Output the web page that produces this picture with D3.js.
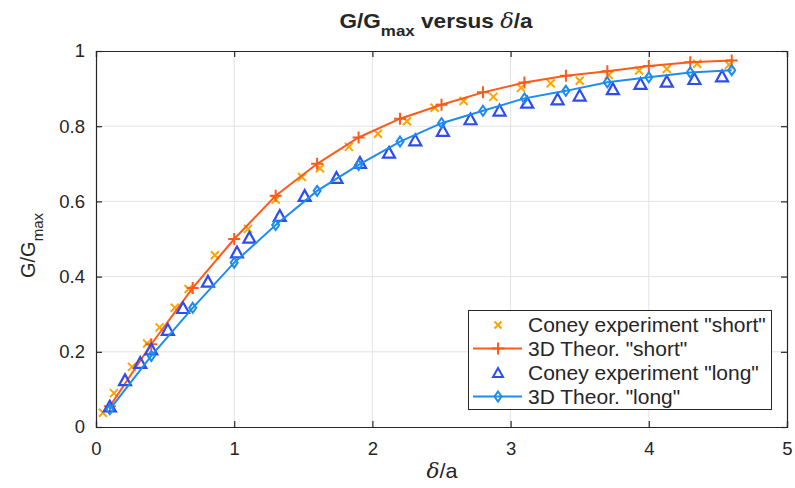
<!DOCTYPE html>
<html><head><meta charset="utf-8">
<script src="https://cdn.jsdelivr.net/npm/d3@7"></script>
<style>body{margin:0;background:#fff}svg{display:block}text{font-family:"Liberation Sans",Arial,sans-serif;fill:#262626}</style>
</head><body><svg id="c" width="795" height="488"></svg>
<script>
// Coney experiment "short" (x markers)
const coneyShortX = [0.05,0.13,0.26,0.37,0.46,0.57,0.67,0.86,1.10,1.30,1.49,1.62,1.83,2.04,2.25,2.45,2.66,2.875,3.075,3.29,3.50,3.71,3.93,4.13,4.35,4.58];
const coneyShortY = [0.038,0.09,0.16,0.222,0.265,0.317,0.367,0.457,0.527,0.605,0.665,0.688,0.745,0.78,0.813,0.849,0.867,0.878,0.902,0.914,0.921,0.936,0.948,0.952,0.966,0.963];
// 3D theory (shared x)
const theorX = [0.1,0.4,0.7,1.0,1.3,1.6,1.9,2.2,2.5,2.8,3.1,3.4,3.7,4.0,4.3,4.6];
const theorShortY = [0.055,0.22,0.37,0.50,0.615,0.70,0.77,0.82,0.857,0.89,0.916,0.934,0.946,0.96,0.97,0.975];
const theorLongY = [0.047,0.189,0.317,0.437,0.537,0.628,0.697,0.759,0.808,0.841,0.874,0.894,0.917,0.93,0.943,0.949];
// Coney experiment "long" (triangles)
const coneyLongX = [0.10,0.21,0.32,0.40,0.52,0.63,0.81,1.02,1.11,1.33,1.51,1.74,1.91,2.12,2.31,2.51,2.71,2.92,3.12,3.34,3.50,3.74,3.94,4.13,4.33,4.53];
const coneyLongY = [0.054,0.124,0.17,0.206,0.258,0.316,0.386,0.464,0.503,0.561,0.614,0.662,0.702,0.729,0.762,0.787,0.818,0.841,0.862,0.871,0.881,0.898,0.912,0.918,0.925,0.932];
const xTicks = [0,1,2,3,4,5];
const yTicks = [0,0.2,0.4,0.6,0.8,1];
const legendLabels = ['Coney experiment "short"','3D Theor. "short"','Coney experiment "long"','3D Theor. "long"'];

const cOrangeX = "#ffa300", cOrangeL = "#ff5a19", cBlueT = "#2f4cf0", cBlueL = "#1c8cf0";
const svg = d3.select("#c");
const L=96,R=787,T=51,B=427;
const x = d3.scaleLinear().domain([0,5]).range([L,R]);
const y = d3.scaleLinear().domain([0,1]).range([B,T]);

// grid
const g = svg.append("g");
g.selectAll(".gx").data(xTicks.slice(1,-1)).join("line").attr("x1",d=>x(d)).attr("x2",d=>x(d)).attr("y1",T).attr("y2",B).attr("stroke","#e3e3e3").attr("stroke-width",1);
g.selectAll(".gy").data(yTicks.slice(1,-1)).join("line").attr("y1",d=>y(d)).attr("y2",d=>y(d)).attr("x1",L).attr("x2",R).attr("stroke","#e3e3e3").attr("stroke-width",1);

// axes
const ax = d3.axisBottom(x).tickValues(xTicks).tickSize(-6).tickPadding(15).tickFormat(d3.format("d"));
const axT = d3.axisTop(x).tickValues(xTicks).tickSize(-6).tickFormat("");
const ay = d3.axisLeft(y).tickValues(yTicks).tickSize(-6).tickPadding(11).tickFormat(d=>d===0||d===1?String(d):d3.format(".1f")(d));
const ayR = d3.axisRight(y).tickValues(yTicks).tickSize(-6).tickFormat("");
function style(sel){sel.select(".domain").attr("stroke","#262626").attr("stroke-width",1.2);sel.selectAll(".tick line").attr("stroke","#262626").attr("stroke-width",1.2);sel.selectAll("text").attr("font-size",18.5).attr("font-family","Liberation Sans, Arial, sans-serif").attr("fill","#262626");}
svg.append("g").attr("transform",`translate(0,${B})`).call(ax).call(style);
svg.append("g").attr("transform",`translate(0,${T})`).call(axT).call(style);
svg.append("g").attr("transform",`translate(${L},0)`).call(ay).call(style);
svg.append("g").attr("transform",`translate(${R},0)`).call(ayR).call(style);

// markers
function crossPath(s){return `M${-s},${-s}L${s},${s}M${-s},${s}L${s},${-s}`;}
function plusPath(s){return `M${-s},0L${s},0M0,${-s}L0,${s}`;}
function triPath(s){return `M0,${-s}L${s},${s*0.8}L${-s},${s*0.8}Z`;}
function diaPath(s){return `M0,${-s}L${s*0.7},0L0,${s}L${-s*0.7},0Z`;}

const line = d3.line().x(d=>x(d[0])).y(d=>y(d[1]));
const tS = theorX.map((v,i)=>[v,theorShortY[i]]);
const tL = theorX.map((v,i)=>[v,theorLongY[i]]);
const cS = coneyShortX.map((v,i)=>[v,coneyShortY[i]]);
const cL = coneyLongX.map((v,i)=>[v,coneyLongY[i]]);

const p = svg.append("g");
p.selectAll(".cs").data(cS).join("path").attr("d",crossPath(4)).attr("transform",d=>`translate(${x(d[0])},${y(d[1])})`).attr("stroke",cOrangeX).attr("stroke-width",2).attr("fill","none");
p.append("path").datum(tS).attr("d",line).attr("stroke",cOrangeL).attr("stroke-width",2).attr("fill","none");
p.selectAll(".ts").data(tS).join("path").attr("d",plusPath(6)).attr("transform",d=>`translate(${x(d[0])},${y(d[1])})`).attr("stroke",cOrangeL).attr("stroke-width",2).attr("fill","none");
p.selectAll(".cl").data(cL).join("path").attr("d",triPath(6)).attr("transform",d=>`translate(${x(d[0])},${y(d[1])})`).attr("stroke",cBlueT).attr("stroke-width",2.2).attr("fill","none");
p.append("path").datum(tL).attr("d",line).attr("stroke",cBlueL).attr("stroke-width",2).attr("fill","none");
p.selectAll(".tl").data(tL).join("path").attr("d",diaPath(5)).attr("transform",d=>`translate(${x(d[0])},${y(d[1])})`).attr("stroke",cBlueL).attr("stroke-width",2).attr("fill","none");

// legend
const lg = svg.append("g");
lg.append("rect").attr("x",468.5).attr("y",310.5).attr("width",303).attr("height",99).attr("fill","#fff").attr("stroke","#262626").attr("stroke-width",1);
const rows=[325,348.5,373,396.5];
legendLabels.forEach((t,i)=>{
  const cy=rows[i];
  if(i===1||i===3){lg.append("line").attr("x1",473).attr("x2",522).attr("y1",cy).attr("y2",cy).attr("stroke",i===1?cOrangeL:cBlueL).attr("stroke-width",2);}
  const d = i===0?crossPath(3.5):i===1?plusPath(6):i===2?triPath(5):diaPath(5);
  const c = i===0?cOrangeX:i===1?cOrangeL:i===2?cBlueT:cBlueL;
  lg.append("path").attr("d",d).attr("transform",`translate(498,${cy})`).attr("stroke",c).attr("stroke-width",2).attr("fill","none");
  lg.append("g").attr("transform",`translate(528,${cy}) scale(1.05,1)`).append("text").attr("x",0).attr("y",0).attr("dy","0.36em").attr("font-size",20).text(t);
});

// title
const ti = svg.append("g").attr("transform","translate(436,28) scale(1.13,1)").append("text").attr("x",0).attr("y",0).attr("text-anchor","middle").attr("font-size",20).attr("font-weight","bold");
ti.append("tspan").text("G/G");
ti.append("tspan").attr("dy",8).attr("font-size",15).text("max");
ti.append("tspan").attr("dy",-8).text(" versus ");
ti.append("tspan").attr("font-style","italic").attr("font-weight","normal").attr("font-family","DejaVu Serif, serif").text("δ");
ti.append("tspan").text("/a");

// x label
const xl = svg.append("g").attr("transform","translate(442,478) scale(1.08,1)").append("text").attr("x",0).attr("y",0).attr("text-anchor","middle").attr("font-size",20);
xl.append("tspan").attr("font-style","italic").attr("font-family","DejaVu Serif, serif").text("δ");
xl.append("tspan").text("/a");

// y label
const yl = svg.append("text").attr("transform","translate(35,278) rotate(-90)").attr("text-anchor","start").attr("font-size",20);
yl.append("tspan").text("G/G");
yl.append("tspan").attr("dy",8).attr("font-size",15).text("max");
</script></body></html>
